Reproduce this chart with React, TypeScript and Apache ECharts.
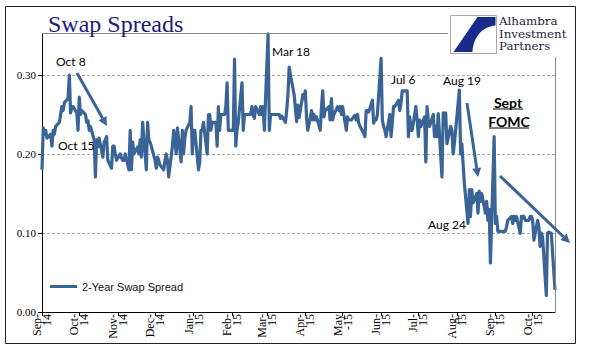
import React, { useEffect, useRef } from "react";
import * as echarts from "echarts";

// ---------- data ----------
const startDate = "2014-09-01";
const endDate = "2015-10-19";
const seriesName = "2-Year Swap Spread";
const monthNames = ["Jan", "Feb", "Mar", "Apr", "May", "Jun", "Jul", "Aug", "Sep", "Oct", "Nov", "Dec"];
const yTicks = [0, 0.1, 0.2, 0.3];

// 2-year swap spread, one value per business day (rows = weeks, Mon..Fri)
const spread: number[] = [
  0.180, 0.233, 0.225, 0.230, 0.220,
  0.225, 0.210, 0.230, 0.225, 0.235,
  0.240, 0.250, 0.260, 0.255, 0.265,
  0.270, 0.300, 0.252, 0.260, 0.260,
  0.252, 0.230, 0.272, 0.250, 0.255,
  0.250, 0.240, 0.242, 0.230, 0.235,
  0.218, 0.171, 0.218, 0.209, 0.220,
  0.196, 0.215, 0.218, 0.222, 0.192,
  0.182, 0.210, 0.210, 0.200, 0.192,
  0.200, 0.195, 0.192, 0.192, 0.200,
  0.180, 0.230, 0.180, 0.215, 0.200,
  0.209, 0.200, 0.218, 0.196, 0.240,
  0.180, 0.240, 0.218, 0.215, 0.210,
  0.192, 0.182, 0.196, 0.192, 0.186,
  0.180, 0.192, 0.200, 0.192, 0.171,
  0.210, 0.230, 0.220, 0.200, 0.233,
  0.190, 0.230, 0.200, 0.220, 0.230,
  0.240, 0.260, 0.200, 0.230, 0.230,
  0.180, 0.190, 0.230, 0.230, 0.240,
  0.200, 0.250, 0.250, 0.230, 0.240,
  0.240, 0.210, 0.260, 0.230, 0.250,
  0.250, 0.260, 0.290, 0.230, 0.230,
  0.230, 0.320, 0.210, 0.230, 0.240,
  0.290, 0.230, 0.250, 0.250, 0.250,
  0.250, 0.260, 0.250, 0.245, 0.260,
  0.250, 0.260, 0.250, 0.260, 0.230,
  0.352, 0.230, 0.250, 0.250, 0.250,
  0.250, 0.250, 0.250, 0.245, 0.248,
  0.240, 0.255, 0.275, 0.310, 0.300,
  0.275, 0.258, 0.241, 0.262, 0.246,
  0.275, 0.270, 0.280, 0.245, 0.230,
  0.255, 0.243, 0.250, 0.243, 0.247,
  0.230, 0.260, 0.280, 0.247, 0.255,
  0.260, 0.243, 0.270, 0.243, 0.250,
  0.260, 0.255, 0.260, 0.250, 0.260,
  0.230, 0.247, 0.243, 0.243, 0.243,
  0.249, 0.243, 0.250, 0.239, 0.235,
  0.226, 0.222, 0.255, 0.255, 0.253,
  0.268, 0.239, 0.243, 0.243, 0.250,
  0.321, 0.243, 0.235, 0.230, 0.222,
  0.250, 0.222, 0.239, 0.260, 0.260,
  0.268, 0.255, 0.264, 0.280, 0.280,
  0.280, 0.222, 0.247, 0.230, 0.230,
  0.260, 0.243, 0.222, 0.243, 0.235,
  0.247, 0.190, 0.260, 0.243, 0.235,
  0.250, 0.222, 0.235, 0.222, 0.251,
  0.171, 0.252, 0.247, 0.252, 0.213,
  0.235, 0.230, 0.200, 0.213, 0.230,
  0.281, 0.200, 0.213, 0.188, 0.163,
  0.112, 0.155, 0.121, 0.155, 0.138,
  0.150, 0.125, 0.153, 0.140, 0.150,
  0.125, 0.140, 0.116, 0.130, 0.062,
  0.222, 0.112, 0.121, 0.102, 0.102,
  0.102, 0.102, 0.102, 0.108, 0.116,
  0.121, 0.112, 0.121, 0.116, 0.121,
  0.0995, 0.121, 0.121, 0.121, 0.116,
  0.116, 0.121, 0.121, 0.116, 0.091,
  0.116, 0.108, 0.083, 0.100, 0.095,
  0.021, 0.100, 0.101, 0.100, 0.100,
  0.028,
];

const annotationTexts = ["Oct 8", "Oct 15", "Mar 18", "Jul 6", "Aug 19", "Aug 24"];
const titleText = "Swap Spreads";
const logoLines = ["Alhambra", "Investment", "Partners"];

// ---------- helpers ----------
const DAY = 86400000;
function buildCalendar() {
  const days: string[] = [];
  const values: (number | null)[] = [];
  const s = Date.parse(startDate + "T00:00:00Z");
  const e = Date.parse(endDate + "T00:00:00Z");
  let k = 0;
  for (let t = s; t <= e; t += DAY) {
    const d = new Date(t);
    days.push(d.toISOString().slice(0, 10));
    const wd = d.getUTCDay();
    if (wd >= 1 && wd <= 5 && k < spread.length) values.push(spread[k++]);
    else values.push(null);
  }
  return { days, values };
}
const isMonthStart = (_i: number, v: string) => v.slice(8, 10) === "01";
const fmtMonth = (v: string) => {
  const m = monthNames[parseInt(v.slice(5, 7), 10) - 1];
  const yy = v.slice(2, 4);
  return m === "May" ? `${m}\n-${yy}` : `${m}-\n${yy}`;
};

const BLUE = "#3A6496";

function arrow(x1: number, y1: number, x2: number, y2: number) {
  const ang = Math.atan2(y2 - y1, x2 - x1);
  const L = 9, W = 4.5;
  const bx = x2 - L * Math.cos(ang), by = y2 - L * Math.sin(ang);
  const px = -Math.sin(ang) * W, py = Math.cos(ang) * W;
  return [
    { type: "line", z: 20, shape: { x1, y1, x2: bx, y2: by }, style: { stroke: BLUE, lineWidth: 3 } },
    { type: "polygon", z: 20, shape: { points: [[x2, y2], [bx + px, by + py], [bx - px, by - py]] }, style: { fill: BLUE } },
  ];
}

echarts.graphic.registerShape(
  "aipLogo",
  echarts.graphic.extendPath("M27 1.5 L45 1.5 L45 10 C33 11 23 20 22 36.5 L3 36.5 Z", {})
);

export default function App() {
  const ref = useRef<HTMLDivElement>(null);
  useEffect(() => {
    if (!ref.current) return;
    const chart = echarts.init(ref.current, undefined, { renderer: "svg" });
    const { days, values } = buildCalendar();
    const annFont = "Lato, 'Open Sans', sans-serif";
    const ann = (text: string, x: number, y: number) => ({
      type: "text", z: 20, x, y,
      style: { text, fill: "#000", font: `12px ${annFont}`, textAlign: "left", textVerticalAlign: "middle" },
    });
    const option: any = {
      animation: false,
      backgroundColor: "#fff",
      grid: { left: 42, top: 33.5, right: 43, bottom: 49 },
      legend: {
        left: 50, top: 281, padding: 0,
        icon: "rect", itemWidth: 27, itemHeight: 3,
        data: [seriesName],
        textStyle: { fontFamily: "'Liberation Sans', Arial, sans-serif", fontSize: 11, color: "#111" },
        itemStyle: { color: BLUE },
      },
      xAxis: {
        type: "category", data: days, boundaryGap: false,
        axisLine: { lineStyle: { color: "#000", width: 1 } },
        axisTick: { show: true, interval: isMonthStart, length: 4, lineStyle: { color: "#000" } },
        axisLabel: {
          interval: isMonthStart, rotate: 90, margin: 2, formatter: fmtMonth,
          fontFamily: "'Liberation Serif', serif", fontSize: 12, lineHeight: 10, color: "#000",
        },
        splitLine: { show: false },
      },
      yAxis: {
        type: "value", min: 0, max: 0.3525, interval: 0.1,
        axisLine: { show: true, lineStyle: { color: "#000" } },
        axisTick: { show: true, length: 4, lineStyle: { color: "#000" } },
        axisLabel: {
          formatter: (v: number) => (yTicks.some((t) => Math.abs(t - v) < 1e-9) ? v.toFixed(2) : ""),
          showMaxLabel: false, fontFamily: "'Liberation Serif', serif", fontSize: 11, color: "#000", margin: 6,
        },
        splitLine: { show: true, showMaxLine: false, lineStyle: { type: [3, 2], color: "#aaa", width: 1 } },
      },
      series: [
        {
          name: seriesName, type: "line", data: values, connectNulls: true,
          symbol: "none", showSymbol: false,
          lineStyle: { color: BLUE, width: 3.2, join: "round" },
          itemStyle: { color: BLUE },
        },
      ],
      graphic: [
        { type: "rect", z: 5, shape: { x: 5.5, y: 6.5, width: 570, height: 337 }, style: { fill: "none", stroke: "#222", lineWidth: 1 } },
        { type: "line", z: 5, shape: { x1: 42, y1: 33.5, x2: 448, y2: 33.5 }, style: { stroke: "#888", lineWidth: 1 } },
        { type: "line", z: 5, shape: { x1: 555.5, y1: 57, x2: 555.5, y2: 312 }, style: { stroke: "#888", lineWidth: 1 } },
        {
          type: "text", z: 20, x: 48, y: 24,
          style: { text: titleText, fill: "#1B1B7B", font: "24px 'Liberation Serif', serif", textAlign: "left", textVerticalAlign: "middle" },
        },
        { type: "rect", z: 20, shape: { x: 450.5, y: 15.5, width: 46, height: 38 }, style: { fill: "#fff", stroke: "#aaa", lineWidth: 1 } },
        { type: "aipLogo", z: 21, x: 450.5, y: 15.5, scaleX: 1, scaleY: 1, style: { fill: "#1A2A8C" } },
        ...logoLines.map((t, i) => ({
          type: "text", z: 20, x: 499, y: 22 + i * 12.5, scaleX: 1.13,
          style: {
            text: t, fill: "#1E1E3C", font: "10.5px 'DejaVu Serif', serif",
            textAlign: "left", textVerticalAlign: "middle",
          },
        })),
        ann(annotationTexts[0], 56, 61),
        ann(annotationTexts[1], 58, 145),
        ann(annotationTexts[2], 272, 51),
        ann(annotationTexts[3], 391, 79),
        ann(annotationTexts[4], 443, 80),
        ann(annotationTexts[5], 428, 224),
        {
          type: "text", z: 20, x: 508, y: 102,
          style: { text: "Sept", fill: "#000", font: `bold 14px ${annFont}`, textAlign: "center", textVerticalAlign: "middle" },
        },
        { type: "line", z: 20, shape: { x1: 493, y1: 109, x2: 523, y2: 109 }, style: { stroke: "#000", lineWidth: 1 } },
        {
          type: "text", z: 20, x: 509, y: 121,
          style: { text: "FOMC", fill: "#000", font: `bold 14px ${annFont}`, textAlign: "center", textVerticalAlign: "middle" },
        },
        { type: "line", z: 20, shape: { x1: 489, y1: 128, x2: 529, y2: 128 }, style: { stroke: "#000", lineWidth: 1 } },
        ...arrow(77, 73, 107, 126),
        ...arrow(467, 103, 478, 177),
        ...arrow(500, 176, 570, 243),
      ],
    };
    chart.setOption(option);
    return () => chart.dispose();
  }, []);
  return <div ref={ref} style={{ position: "fixed", left: 0, top: 0, width: 598, height: 361 }} />;
}
